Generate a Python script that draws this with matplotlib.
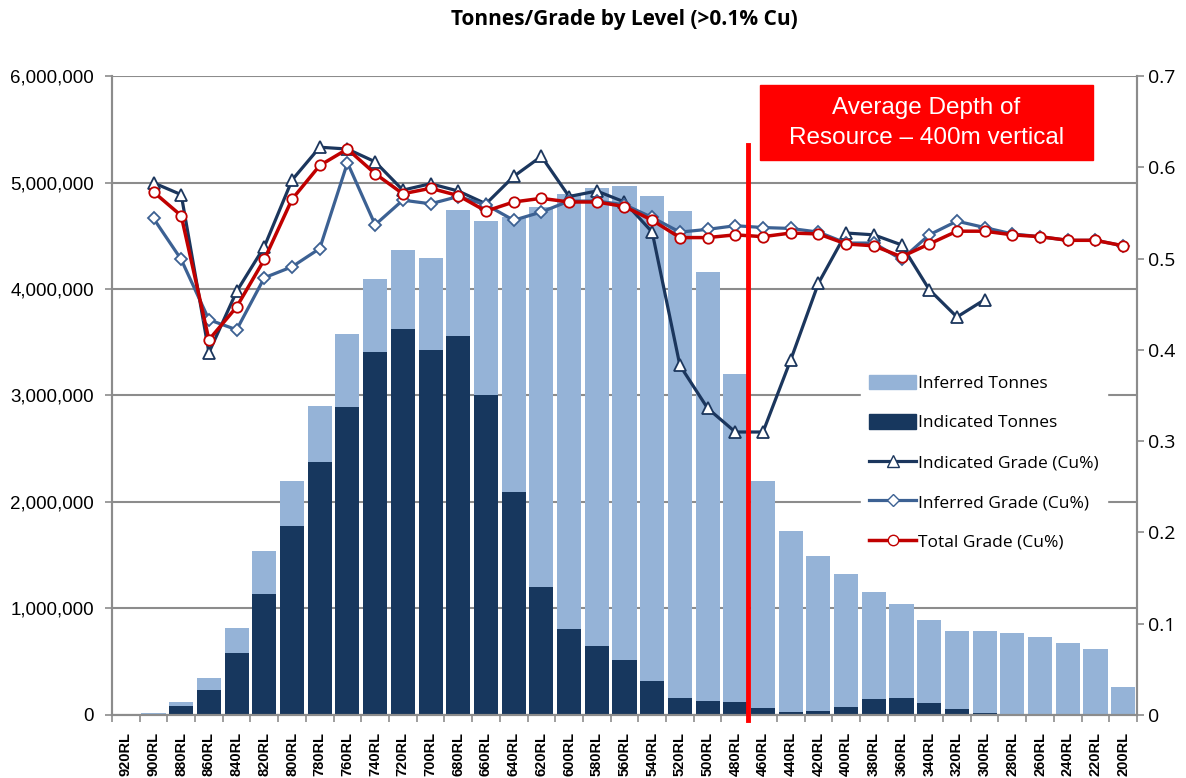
import matplotlib
matplotlib.use("Agg")
import matplotlib.pyplot as plt
import numpy as np
from matplotlib.lines import Line2D
from matplotlib.patches import Patch, Rectangle
from matplotlib.ticker import FuncFormatter, FixedLocator

# levels, top to bottom
levels = [f"{rl}RL" for rl in range(920, 199, -20)]

# tonnes (total = top of the light bar, indicated = dark bar)
total_tonnes = [0, 20000, 125000, 345000, 820000, 1540000, 2200000, 2900000, 3575000,
                4090000, 4370000, 4290000, 4740000, 4640000, 4680000, 4770000, 4890000,
                4945000, 4970000, 4870000, 4730000, 4155000, 3200000, 2197000, 1728000,
                1496000, 1324000, 1158000, 1039000, 892000, 786000, 786000, 767000,
                735000, 679000, 617000, 260000]
indicated_tonnes = [0, 10000, 85000, 235000, 580000, 1140000, 1775000, 2380000, 2890000,
                    3410000, 3620000, 3430000, 3560000, 3005000, 2090000, 1205000, 805000,
                    650000, 516000, 320000, 163000, 134000, 122000, 69000, 25000,
                    35000, 78000, 147000, 163000, 116000, 59000, 19000, 0,
                    0, 0, 0, 0]
inferred_tonnes = [t - i for t, i in zip(total_tonnes, indicated_tonnes)]

# grades (Cu %), None = no value at that level
indicated_grade = [None, 0.583, 0.570, 0.397, 0.464, 0.513, 0.586, 0.622, 0.620,
                   0.606, 0.575, 0.582, 0.574, 0.560, 0.590, 0.612, 0.568, 0.574,
                   0.562, 0.529, 0.383, 0.336, 0.310, 0.310, 0.389, 0.473, 0.528,
                   0.526, 0.515, 0.466, 0.436, 0.455, None, None, None, None, None]
inferred_grade = [None, 0.544, 0.499, 0.433, 0.422, 0.479, 0.491, 0.511, 0.605,
                  0.537, 0.564, 0.560, 0.568, 0.559, 0.542, 0.551, 0.563, 0.563,
                  0.559, 0.545, 0.529, 0.532, 0.536, 0.534, 0.533, 0.529, 0.517,
                  0.517, 0.499, 0.526, 0.541, 0.534, 0.527, 0.524, 0.520, 0.520, 0.514]
total_grade = [None, 0.573, 0.547, 0.411, 0.447, 0.499, 0.565, 0.602, 0.620,
               0.593, 0.571, 0.577, 0.569, 0.552, 0.562, 0.566, 0.562, 0.562,
               0.557, 0.542, 0.523, 0.523, 0.526, 0.524, 0.528, 0.527, 0.516,
               0.514, 0.502, 0.516, 0.530, 0.530, 0.526, 0.524, 0.520, 0.520, 0.514]

avg_depth_after = "480RL"   # red marker line sits just below this level

LIGHT = "#95B3D7"
DARK = "#17375E"
IND_LINE = "#1B365D"
INF_LINE = "#3C6193"
RED = "#C00000"
GRID = "#8C8C8C"


def as_float(vals):
    return np.array([np.nan if v is None else v for v in vals], dtype=float)


x = np.arange(len(levels))

fig = plt.figure(figsize=(11.86, 7.78), dpi=100)
ax = fig.add_axes([0.0944, 0.081, 0.8643, 0.8213])
ax2 = ax.twinx()

ax.bar(x, indicated_tonnes, width=0.87, color=DARK, zorder=2)
ax.bar(x, inferred_tonnes, width=0.87, bottom=indicated_tonnes, color=LIGHT, zorder=2)

ax.set_ylim(0, 6000000)
ax.set_xlim(-0.5, len(levels) - 0.5)
ax.yaxis.set_major_locator(FixedLocator(np.arange(0, 6000001, 1000000)))
ax.yaxis.set_major_formatter(FuncFormatter(lambda v, p: f"{int(v):,}"))
ax.grid(axis="y", color=GRID, lw=1.5, zorder=1)
ax.set_axisbelow(True)

ax.set_xticks(x)
ax.set_xticklabels(levels, rotation=90, fontsize=10.5, fontweight="bold",
                   family="Liberation Sans")
ax.set_xticks(np.arange(-0.5, len(levels), 1), minor=True)
ax.tick_params(axis="x", which="major", length=0, pad=12)
ax.tick_params(axis="x", which="minor", length=5, color=GRID, width=1.2)
ax.tick_params(axis="y", length=5, color=GRID, width=1.2, labelsize=13.5, pad=8)
for lab in ax.get_yticklabels():
    lab.set_family("Liberation Sans")

for sp in ["top"]:
    ax.spines[sp].set_visible(False)
    ax2.spines[sp].set_visible(False)
for a in (ax, ax2):
    for sp in ["left", "right", "bottom"]:
        a.spines[sp].set_color(GRID)
        a.spines[sp].set_linewidth(1.5)

ax2.set_ylim(0, 0.7)
ax2.yaxis.set_major_locator(FixedLocator(np.arange(0, 0.71, 0.1)))
ax2.yaxis.set_major_formatter(FuncFormatter(lambda v, p: "0" if v == 0 else f"{v:.1f}"))
ax2.tick_params(axis="y", length=5, color=GRID, width=1.2, labelsize=14, pad=3)
for lab in ax2.get_yticklabels():
    lab.set_family("Open Sans")

ax2.plot(x, as_float(indicated_grade), color=IND_LINE, lw=2.3, marker="^", ms=8,
         mfc="white", mec=IND_LINE, mew=1.3, zorder=3)
ax2.plot(x, as_float(inferred_grade), color=INF_LINE, lw=2.3, marker="D", ms=6.5,
         mfc="white", mec=INF_LINE, mew=1.3, zorder=4)
ax2.plot(x, as_float(total_grade), color=RED, lw=2.5, marker="o", ms=7.5,
         mfc="white", mec=RED, mew=1.3, zorder=5)

# average depth marker
xpos = levels.index(avg_depth_after) + 0.45
ax2.plot([xpos, xpos], [-0.006, 0.624], color="#FF0000", lw=3.5, zorder=6, clip_on=False)

fig.patches.append(Rectangle((760 / 1186, 1 - 160 / 778), 333 / 1186, 75 / 778,
                             transform=fig.transFigure, color="#FF0000", zorder=10))
fig.text(926.5 / 1186, 1 - 123 / 778, "Average Depth of\nResource \u2013 400m vertical",
         color="white", fontsize=17.5, ha="center", va="center", family="Liberation Sans",
         linespacing=1.45, zorder=11)

fig.text(624.5 / 1186, 1 - 20 / 778, "Tonnes/Grade by Level (>0.1% Cu)", ha="center",
         va="center", fontsize=15, fontweight="bold", family="Open Sans")

handles = [
    Patch(color=LIGHT, label="Inferred Tonnes"),
    Patch(color=DARK, label="Indicated Tonnes"),
    Line2D([], [], color=IND_LINE, lw=2.3, marker="^", ms=8, mfc="white", mec=IND_LINE,
           label="Indicated Grade (Cu%)"),
    Line2D([], [], color=INF_LINE, lw=2.3, marker="D", ms=6.5, mfc="white", mec=INF_LINE,
           label="Inferred Grade (Cu%)"),
    Line2D([], [], color=RED, lw=2.5, marker="o", ms=7.5, mfc="white", mec=RED,
           label="Total Grade (Cu%)"),
]
leg = ax2.legend(handles=handles, loc="upper left", bbox_to_anchor=(0.722, 0.56),
                 frameon=True, facecolor="white", edgecolor="white", framealpha=1,
                 fancybox=False, labelspacing=1.3, handlelength=2.7, handleheight=0.9,
                 handletextpad=0.1, borderpad=0.5, prop={"family": "Open Sans", "size": 12.5})
leg.set_zorder(20)

fig.savefig("out.png", dpi=100)
